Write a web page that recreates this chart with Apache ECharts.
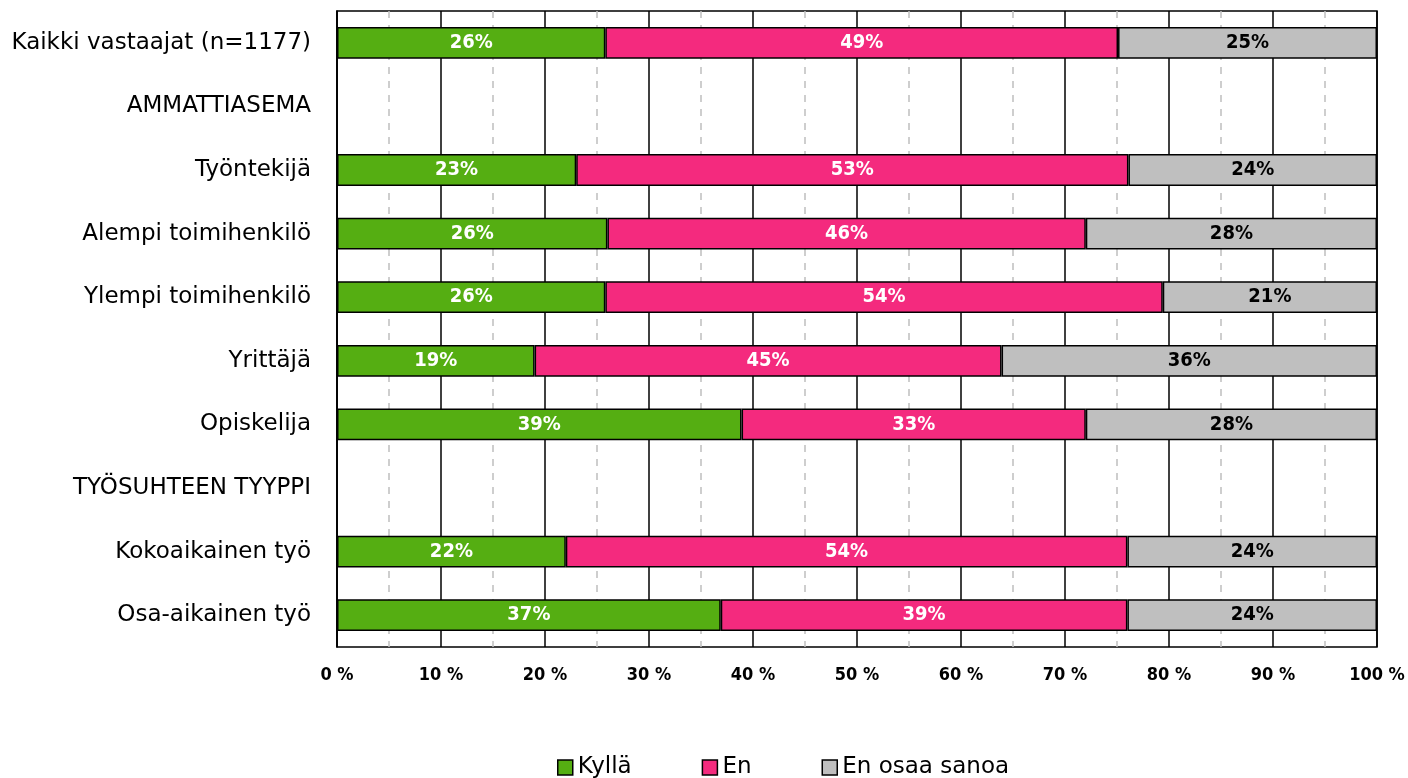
<!DOCTYPE html>
<html>
<head>
<meta charset="utf-8">
<script src="https://cdn.jsdelivr.net/npm/echarts@6/dist/echarts.min.js"></script>
<style>
html,body{margin:0;padding:0;background:#fff;}
#chart{width:1408px;height:778px;}
</style>
</head>
<body>
<div id="chart"></div>
<script>
const categories = [
  'Kaikki vastaajat (n=1177)',
  'AMMATTIASEMA',
  'Työntekijä',
  'Alempi toimihenkilö',
  'Ylempi toimihenkilö',
  'Yrittäjä',
  'Opiskelija',
  'TYÖSUHTEEN TYYPPI',
  'Kokoaikainen työ',
  'Osa-aikainen työ'
];
const kylla = [25.8, null, 23.0, 26.0, 25.8, 19.0, 38.9, null, 22.0, 36.9];
const en    = [49.3, null, 53.1, 46.0, 53.6, 44.9, 33.1, null, 54.0, 39.1];
const eos   = [24.9, null, 23.9, 28.0, 20.6, 36.1, 28.0, null, 24.0, 24.0];
const seriesNames = ['Kyllä', 'En', 'En osaa sanoa'];
const colors = ['#55AE12', '#F42A7E', '#BFBFBF'];
const labelColors = ['#ffffff', '#ffffff', '#000000'];
const xTicks = [0, 10, 20, 30, 40, 50, 60, 70, 80, 90, 100];

const FONT = 'DejaVu Sans';
const FONT_C = 'DejaVu Sans Condensed';
const dataSets = [kylla, en, eos];

const chart = echarts.init(document.getElementById('chart'), null, {renderer: 'canvas'});
chart.setOption({
  animation: false,
  color: colors,
  grid: {left: 337, right: 31, top: 11, bottom: 131, show: true, borderColor: '#000', borderWidth: 1.5},
  legend: {
    top: 751,
    left: 552,
    itemWidth: 15,
    itemHeight: 15,
    itemGap: 70,
    icon: 'rect',
    textStyle: {fontFamily: FONT, fontSize: 23, color: '#000'},
    itemStyle: {borderColor: '#000', borderWidth: 1.5},
    data: seriesNames
  },
  xAxis: {
    type: 'value',
    min: 0, max: 100, interval: 10,
    axisLine: {show: false},
    axisTick: {show: false},
    axisLabel: {
      fontFamily: FONT_C, fontSize: 18, fontWeight: 'bold', color: '#000', margin: 19,
      formatter: v => xTicks.includes(v) ? v + ' %' : ''
    },
    splitLine: {show: true, lineStyle: {color: '#000', width: 1.5}},
    minorTick: {show: false, splitNumber: 2},
    minorSplitLine: {show: true, lineStyle: {color: '#BFBFBF', width: 1.5, type: [7, 7]}}
  },
  yAxis: {
    type: 'category',
    inverse: true,
    data: categories,
    axisLine: {show: true, lineStyle: {color: '#000', width: 1.5}},
    axisTick: {show: false},
    axisLabel: {fontFamily: FONT, fontSize: 23, color: '#000', margin: 26}
  },
  series: dataSets.map((d, i) => ({
    name: seriesNames[i],
    type: 'bar',
    stack: 'total',
    barWidth: '50%',
    data: d,
    itemStyle: {color: colors[i], borderColor: '#000', borderWidth: 1.5},
    label: {
      show: true,
      position: 'inside',
      fontFamily: FONT_C,
      fontSize: 20,
      fontWeight: 'bold',
      color: labelColors[i],
      formatter: p => p.value == null ? '' : Math.round(p.value) + '%'
    }
  }))
});
</script>
</body>
</html>
